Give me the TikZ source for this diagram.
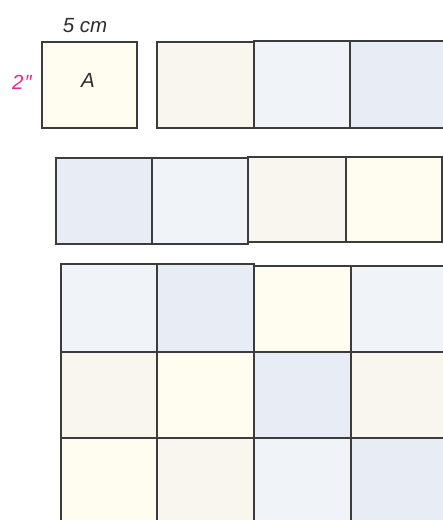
\documentclass[tikz,border=0pt]{standalone}
\usepackage{fontspec}
\setmainfont{Liberation Sans}
\definecolor{cream}{HTML}{FFFDF0}
\definecolor{beige}{HTML}{F9F5EF}
\definecolor{lblue}{HTML}{F0F4F9}
\definecolor{bgrey}{HTML}{E8ECF5}
\definecolor{edge}{HTML}{3C3C3C}
\definecolor{pinklbl}{HTML}{F0288C}
\tikzset{
  tile/.style={draw=edge, line width=1.3pt},
  lbl/.style={font=\itshape\fontsize{20.5}{24}\selectfont, text=black!82, inner sep=0pt}
}
\begin{document}
\begin{tikzpicture}[x=1pt,y=-1pt]
\useasboundingbox (0,0) rectangle (443,520);
\clip (0,0) rectangle (443,520);
% single square A
\filldraw[tile, fill=cream] (42,42) rectangle (137,128);
\node[lbl] (A) at (88,80) {A};
\node[lbl] (w) at (85,26) {5 cm};
\node[lbl, text=pinklbl] (h) at (22,82) {2\kern1pt″};
% row 1
\filldraw[tile, fill=beige] (157,42) rectangle (254,128);
\filldraw[tile, fill=lblue] (254,41) rectangle (350,128);
\filldraw[tile, fill=bgrey] (350,41) rectangle (446,128);
% row 2
\filldraw[tile, fill=bgrey] (56,158) rectangle (152,244);
\filldraw[tile, fill=lblue] (152,158) rectangle (248,244);
\filldraw[tile, fill=beige] (248,157) rectangle (346,242);
\filldraw[tile, fill=cream] (346,157) rectangle (442,242);
% grid
\filldraw[tile, fill=lblue] (61,264) rectangle (157,352);
\filldraw[tile, fill=bgrey] (157,264) rectangle (254,352);
\filldraw[tile, fill=cream] (254,266) rectangle (351,352);
\filldraw[tile, fill=lblue] (351,266) rectangle (447,352);
\filldraw[tile, fill=beige] (61,352) rectangle (157,438);
\filldraw[tile, fill=cream] (157,352) rectangle (254,438);
\filldraw[tile, fill=bgrey] (254,352) rectangle (351,438);
\filldraw[tile, fill=beige] (351,352) rectangle (447,438);
\filldraw[tile, fill=cream] (61,438) rectangle (157,524);
\filldraw[tile, fill=beige] (157,438) rectangle (254,524);
\filldraw[tile, fill=lblue] (254,438) rectangle (351,524);
\filldraw[tile, fill=bgrey] (351,438) rectangle (447,524);
\end{tikzpicture}
\end{document}
